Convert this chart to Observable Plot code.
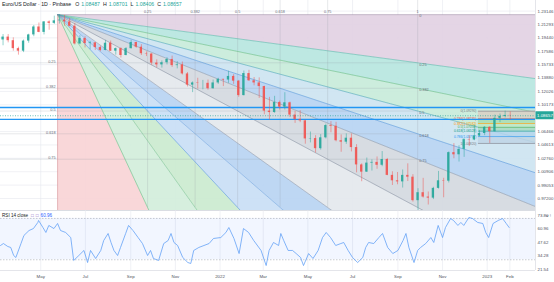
<!DOCTYPE html>
<html>
<head>
<meta charset="utf-8">
<script src="https://cdn.jsdelivr.net/npm/d3@7"></script>
<script src="https://cdn.jsdelivr.net/npm/@observablehq/plot@0.6"></script>
<style>
html,body{margin:0;padding:0;background:#fff;}
#chart{width:554px;height:282px;overflow:hidden;}
#chart svg{display:block;}
</style>
</head>
<body>
<div id="chart"></div>
<script>
// ---------------- data ----------------
const weekStart = "2021-03-08";
const firstOpen = 1.1915;
const weeklyHigh = [1.1990,1.1990,1.1945,1.1815,1.1915,1.1995,1.2115,1.2150,1.2170,1.2180,1.2245,1.2266,1.2255,1.2215,1.2145,1.1975,1.1960,1.1895,1.1880,1.1830,1.1910,1.1900,1.1805,1.1805,1.1810,1.1910,1.1885,1.1850,1.1750,1.1725,1.1640,1.1625,1.1670,1.1692,1.1615,1.1610,1.1465,1.1335,1.1385,1.1355,1.1360,1.1360,1.1385,
1.1370,1.1482,1.1435,1.1355,1.1485,1.1495,1.1395,1.1390,1.1275,1.1120,1.1135,1.1070,1.1185,1.1055,1.0925,1.0935,1.0805,1.0640,1.0590,1.0605,1.0750,1.0785,1.0775,1.0600,1.0615,1.0615,1.0465,1.0200,1.0280,1.0255,1.0295,1.0370,1.0275,1.0090,1.0080,1.0115,1.0200,1.0050,0.9855,0.9999,0.9810,0.9875,1.0095,1.0000,1.0365,1.0480,1.0450,1.0545,1.0590,1.0736,1.0660,1.0715,
1.0715,1.0875,1.0890,1.0930,1.0920];
const weeklyLow = [1.1835,1.1875,1.1760,1.1705,1.1740,1.1870,1.1960,1.2015,1.1985,1.2050,1.2130,1.2135,1.2105,1.2095,1.1845,1.1850,1.1805,1.1780,1.1770,1.1752,1.1765,1.1755,1.1705,1.1665,1.1695,1.1790,1.1800,1.1700,1.1685,1.1565,1.1530,1.1525,1.1570,1.1535,1.1515,1.1430,1.1265,1.1186,1.1235,1.1225,1.1220,1.1235,1.1300,
1.1270,1.1315,1.1300,1.1121,1.1140,1.1340,1.1280,1.1106,1.0880,1.0806,1.0900,1.0945,1.0945,1.0840,1.0760,1.0770,1.0472,1.0490,1.0350,1.0390,1.0545,1.0630,1.0505,1.0360,1.0470,1.0365,1.0075,0.9952,1.0080,1.0100,1.0125,1.0160,1.0035,0.9900,0.9910,0.9865,0.9955,0.9670,0.9536,0.9725,0.9630,0.9705,0.9850,0.9730,0.9935,1.0270,1.0225,1.0290,1.0440,1.0520,1.0575,1.0590,
1.0482,1.0640,1.0770,1.0835,1.0805];
const weeklyClose = [1.1955,1.1905,1.1795,1.1760,1.1900,1.1985,1.2095,1.2020,1.2165,1.2145,1.2180,1.2190,1.2165,1.2105,1.1860,1.1935,1.1865,1.1875,1.1810,1.1770,1.1870,1.1760,1.1795,1.1700,1.1795,1.1880,1.1815,1.1725,1.1720,1.1595,1.1570,1.1600,1.1645,1.1560,1.1570,1.1445,1.1290,1.1320,1.1315,1.1315,1.1240,1.1320,1.1370,
1.1360,1.1410,1.1345,1.1145,1.1450,1.1350,1.1320,1.1270,1.0930,1.0910,1.1050,1.0985,1.1045,1.0875,1.0815,1.0795,1.0545,1.0550,1.0410,1.0560,1.0730,1.0720,1.0520,1.0500,1.0555,1.0425,1.0185,1.0085,1.0210,1.0220,1.0180,1.0260,1.0040,0.9965,0.9950,1.0040,1.0015,0.9690,0.9800,0.9740,0.9725,0.9860,0.9965,0.9960,1.0355,1.0325,1.0400,1.0535,1.0530,1.0585,1.0620,1.0705,
1.0645,1.0830,1.0855,1.0870,1.0866];

const priceTicks = [0.97200,0.99053,1.00906,1.02760,1.04613,1.06466,1.10173,1.12026,1.13880,1.15733,1.17586,1.19440,1.21293,1.23146];
const lastPrice = 1.08657;

const fanLevels = [0, 0.25, 0.382, 0.5, 0.618, 0.75, 1];
const fanDates = ["2021-05-24", "2022-09-28"];
const fanPrices = [1.2266, 0.9596];
const priceBandColors = ["#e2d1e3","#b7e6df","#c8ecda","#cde4f1","#b7d4f2","#d4d9e0"];
const timeBandColors  = ["#f8d4d6","#d3eedb","#cbeacf","#c9def5","#b9d4f2","#e4e8ed"];
const priceRayColors  = ["#a08aa6","#4fb3a6","#5cb87a","#3f9fb0","#4a8fd8","#7f8fa6","#7c8799"];
const timeRayColors   = ["#d28a8f","#5cb87a","#76c08f","#4a8fd8","#6da2dc","#8a94a6","#7c8799"];

const fibLevels = [0, 0.236, 0.382, 0.5, 0.618, 0.786, 1];
const fibDate = "2022-12-20";
const fibPrices = [1.0929, 1.0482];
const fibBandColors = ["#d8cfc4","#a9dcb3","#bde6c5","#a7dac4","#b4d3ee","#c0d3e6"];
const fibLineColors = ["#787b86","#f23645","#ff9800","#4caf50","#089981","#2196f3","#787b86"];

const hLines = [1.0980, 1.0815];

const monthTicks = ["2021-05-01","2021-07-01","2021-09-01","2021-11-01","2022-01-01","2022-03-01","2022-05-01","2022-07-01","2022-09-01","2022-11-01","2023-01-01","2023-02-01"];
const monthLabels = ["May","Jul","Sep","Nov","2022","Mar","May","Jul","Sep","Nov","2023","Feb"];

const rsiDates = ["2021-03-07","2021-03-11","2021-03-17","2021-03-21","2021-03-25","2021-03-28","2021-04-04","2021-04-08","2021-04-15","2021-04-21","2021-04-27","2021-04-28","2021-05-04","2021-05-08","2021-05-12","2021-05-19","2021-05-24","2021-05-28","2021-06-04","2021-06-11","2021-06-15","2021-06-22","2021-06-29","2021-07-04","2021-07-08","2021-07-15","2021-07-22","2021-07-26","2021-08-01","2021-08-05","2021-08-09","2021-08-14","2021-08-18","2021-08-25","2021-08-29","2021-09-04","2021-09-11","2021-09-17","2021-09-24","2021-09-28","2021-10-02","2021-10-09","2021-10-16","2021-10-22","2021-10-26","2021-10-30","2021-11-04","2021-11-11","2021-11-18","2021-11-22","2021-11-26","2021-12-03","2021-12-10","2021-12-17","2021-12-23",
"2022-01-02","2022-01-09","2022-01-13","2022-01-20","2022-01-27","2022-02-02","2022-02-09","2022-02-16","2022-02-26","2022-03-05","2022-03-09","2022-03-15","2022-03-22","2022-03-25","2022-03-29","2022-04-04","2022-04-10","2022-04-15","2022-04-21","2022-04-25","2022-05-02","2022-05-08","2022-05-15","2022-05-21","2022-05-26","2022-06-01","2022-06-08","2022-06-15","2022-06-19","2022-06-25","2022-07-01","2022-07-08","2022-07-15","2022-07-19","2022-07-23","2022-07-30","2022-08-06","2022-08-11","2022-08-18","2022-08-25","2022-09-01","2022-09-08","2022-09-12","2022-09-16","2022-09-23","2022-09-28","2022-10-02","2022-10-09","2022-10-16","2022-10-20","2022-10-26","2022-11-01","2022-11-05","2022-11-12","2022-11-16","2022-11-22","2022-11-26","2022-11-30","2022-12-07","2022-12-12","2022-12-19","2022-12-26","2022-12-30",
"2023-01-03","2023-01-09","2023-01-16","2023-01-22","2023-01-27","2023-01-31"];
const rsiValues = [43.8,45.7,42.8,41.9,34.1,32.2,45.7,53.5,58.3,60.2,66.1,68.0,61.2,56.4,63.2,60.2,65.1,58.3,56.4,51.5,29.3,34.1,39.0,27.3,39.0,31.2,39.0,48.6,55.4,46.7,39.0,34.1,41.9,55.4,63.2,58.3,51.5,45.7,34.1,39.0,31.2,29.3,45.7,48.6,55.4,46.7,43.8,32.2,27.3,26.4,39.0,41.9,43.8,45.7,50.6,
51.5,56.4,61.2,50.6,36.0,60.2,56.4,48.6,39.0,24.4,39.0,46.7,43.8,55.4,48.6,39.0,39.0,36.0,32.2,24.4,36.0,31.2,39.0,51.5,56.4,51.5,43.8,45.7,46.7,39.0,32.2,27.3,32.2,41.9,46.7,45.7,51.5,55.4,41.9,36.0,39.0,48.6,55.4,41.9,27.3,39.0,41.9,45.7,51.5,46.7,63.2,51.5,61.2,69.9,68.0,63.2,66.1,63.2,70.9,69.9,66.1,65.1,56.4,
51.5,65.1,68.0,69.9,65.1,61.2];
const rsiTicks = [73.80, 60.96, 47.62, 34.28, 21.54];
const rsiBands = [70, 30];
const rsiLast = 60.96;

// ---------------- setup ----------------
const upColor = "#26a69a", downColor = "#ef5350";
const X0 = new Date("2021-03-07"), X1 = new Date("2023-03-08");
const priceDomain = [0.95538, 1.24616];
const rsiDomain = [19.60, 77.67];
const font = "Liberation Sans, Arial, sans-serif";
const monthDates = monthTicks.map(d => new Date(d));
const monthLabelOf = new Map(monthDates.map((d, i) => [+d, monthLabels[i]]));

const candles = weeklyClose.map((c, i) => {
  const monday = d3.utcDay.offset(new Date(weekStart), 7 * i);
  const o = i === 0 ? firstOpen : weeklyClose[i - 1];
  return {
    mid: d3.utcHour.offset(monday, 60),
    x1: d3.utcHour.offset(monday, 22),
    x2: d3.utcHour.offset(monday, 98),
    o, c,
    h: Math.max(weeklyHigh[i], o, c),
    l: Math.min(weeklyLow[i], o, c)
  };
});
const candleColor = d => d.c >= d.o ? upColor : downColor;

// fan geometry
const t0 = new Date(fanDates[0]), t1 = new Date(fanDates[1]);
const p0 = fanPrices[0], p1 = fanPrices[1];
const dT = t1 - t0, dP = p0 - p1, K = 4;
const O = {x: t0, y: p0};
const priceRay = l => ({x: new Date(+t0 + K * dT), y: p0 - K * l * dP});
const timeRay = l => ({x: new Date(+t0 + K * l * dT), y: p0 - K * dP});
const levelPrice = l => p0 - l * dP;
const levelTime = l => new Date(+t0 + l * dT);

const fanMarks = [];
for (let i = 0; i < fanLevels.length - 1; i++) {
  const a = fanLevels[i], b = fanLevels[i + 1];
  fanMarks.push(Plot.line([O, priceRay(a), priceRay(b), O], {x: "x", y: "y", fill: priceBandColors[i], fillOpacity: 0.92, stroke: "none", clip: true}));
  fanMarks.push(Plot.line([O, timeRay(a), timeRay(b), O], {x: "x", y: "y", fill: timeBandColors[i], fillOpacity: 0.92, stroke: "none", clip: true}));
}
const inner = fanLevels.slice(1, -1);
fanMarks.push(Plot.ruleY(inner, {y: levelPrice, x1: X0, x2: t1, stroke: "#8f96a3", strokeOpacity: 0.45, strokeWidth: 0.5, clip: true}));
fanMarks.push(Plot.ruleX(fanLevels.slice(1), {x: levelTime, y1: p1, y2: priceDomain[1], stroke: "#8f96a3", strokeOpacity: 0.45, strokeWidth: 0.5, clip: true}));
fanLevels.forEach((l, i) => {
  fanMarks.push(Plot.line([O, priceRay(l)], {x: "x", y: "y", stroke: priceRayColors[i], strokeWidth: 0.7, strokeOpacity: 0.8, clip: true}));
  if (l < 1) fanMarks.push(Plot.line([O, timeRay(l)], {x: "x", y: "y", stroke: timeRayColors[i], strokeWidth: 0.7, strokeOpacity: 0.8, clip: true}));
});
fanMarks.push(Plot.text(inner, {x: t0, y: levelPrice, text: l => String(l), dx: -2, dy: -1.5, textAnchor: "end", fontSize: 3.8, fill: "#6a6f7c"}));
fanMarks.push(Plot.text(fanLevels.slice(0, -1), {x: t1, y: levelPrice, text: l => String(l), dx: 1.5, dy: 1.5, textAnchor: "start", fontSize: 3.8, fill: "#6a6f7c"}));
fanMarks.push(Plot.text(fanLevels.slice(1), {x: levelTime, frameAnchor: "top", dy: 10, text: l => String(l), textAnchor: "middle", fontSize: 3.8, fill: "#6a6f7c"}));

// fib retracement
const fT = new Date(fibDate);
const fibP = l => fibPrices[0] - l * (fibPrices[0] - fibPrices[1]);
const fibBands = d3.range(fibLevels.length - 1).map(i => ({y1: fibP(fibLevels[i]), y2: fibP(fibLevels[i + 1]), fill: fibBandColors[i]}));

const rsi = rsiDates.map((d, i) => ({date: new Date(d), v: rsiValues[i]}));

// ---------------- main pane ----------------
const main = Plot.plot({
  width: 554, height: 210,
  marginTop: 0, marginBottom: 0, marginLeft: 0, marginRight: 19,
  style: {fontFamily: font, background: "transparent", overflow: "visible"},
  x: {type: "utc", domain: [X0, X1], axis: null},
  y: {domain: priceDomain},
  color: {type: "identity"},
  marks: [
    Plot.gridY(priceTicks, {stroke: "#e6e8ee", strokeOpacity: 1, strokeWidth: 0.6}),
    Plot.gridX(monthDates, {stroke: "#e6e8ee", strokeOpacity: 1, strokeWidth: 0.6}),
    ...fanMarks,
    Plot.rect(fibBands, {x1: fT, x2: X1, y1: "y1", y2: "y2", fill: "fill", fillOpacity: 0.85, clip: true}),
    Plot.ruleY(fibLevels, {y: fibP, x1: fT, x2: X1, stroke: (l, i) => fibLineColors[i], strokeWidth: 0.6, clip: true}),
    Plot.text(fibLevels, {x: fT, y: fibP, text: l => `${l}(${fibP(l).toFixed(5)})`, dx: -2, textAnchor: "end", fontSize: 3.3, fill: (l, i) => fibLineColors[i]}),
    Plot.ruleY(hLines, {stroke: "#2196f3", strokeWidth: 1.3, strokeOpacity: 1}),
    Plot.ruleX(candles, {x: "mid", y1: "l", y2: "h", stroke: candleColor, strokeWidth: 0.5, clip: true}),
    Plot.rect(candles, {x1: "x1", x2: "x2", y1: "o", y2: "c", fill: candleColor, fillOpacity: 0.9, clip: true}),
    Plot.ruleY([lastPrice], {stroke: upColor, strokeDasharray: "1,1.5", strokeWidth: 0.7}),
    Plot.ruleX([X1], {stroke: "#d1d4dc", strokeWidth: 0.6}),
    Plot.ruleY([priceDomain[0]], {stroke: "#d1d4dc", strokeWidth: 0.8}),
    Plot.axisY(priceTicks, {anchor: "right", tickSize: 0, tickPadding: 2, fontSize: 4.4, tickFormat: d => d.toFixed(5), color: "#50535e"})
  ]
});

// ---------------- RSI pane ----------------
const rsiPlot = Plot.plot({
  width: 554, height: 72,
  marginTop: 0, marginBottom: 12, marginLeft: 0, marginRight: 19,
  style: {fontFamily: font, background: "transparent", overflow: "visible"},
  x: {type: "utc", domain: [X0, X1]},
  y: {domain: rsiDomain},
  marks: [
    Plot.gridX(monthDates, {stroke: "#e6e8ee", strokeOpacity: 1, strokeWidth: 0.6}),
    Plot.rect([0], {x1: X0, x2: X1, y1: rsiBands[1], y2: rsiBands[0], fill: "#2962ff", fillOpacity: 0.06}),
    Plot.ruleY(rsiBands, {stroke: "#9598a1", strokeDasharray: "1.5,1.5", strokeWidth: 0.5}),
    Plot.line(rsi, {x: "date", y: "v", stroke: "#5b9cf6", strokeWidth: 0.75}),
    Plot.ruleX([X1], {stroke: "#d1d4dc", strokeWidth: 0.6}),
    Plot.ruleY([rsiDomain[0]], {stroke: "#d1d4dc", strokeWidth: 0.6}),
    Plot.axisY(rsiTicks, {anchor: "right", tickSize: 0, tickPadding: 2, fontSize: 4.4, dy: 0.6, tickFormat: d => d.toFixed(2), color: "#50535e"}),
    Plot.axisX(monthDates, {tickSize: 0, tickPadding: 4, fontSize: 4.4, tickFormat: d => monthLabelOf.get(+d), color: "#50535e"})
  ]
});

const root = document.getElementById("chart");
root.appendChild(main);
root.appendChild(rsiPlot);

// overlays drawn with the plots' own scales
const sx = main.scale("x"), sy = main.scale("y");
const m = d3.select(main);
const yl = sy.apply(lastPrice), xr = sx.apply(X1);
m.append("rect").attr("x", xr + 0.5).attr("y", yl - 4).attr("width", 18).attr("height", 8).attr("fill", upColor);
m.append("text").attr("x", xr + 2).attr("y", yl + 1.6).attr("text-anchor", "start").attr("font-size", 4.4).attr("fill", "#fff").attr("font-family", font).text(lastPrice.toFixed(5));

const hdr = m.append("text").attr("x", 2).attr("y", 6.2).attr("text-anchor", "start").attr("font-size", 5.2).attr("font-family", font).attr("fill", "#131722").attr("xml:space", "preserve");
hdr.append("tspan").text("Euro/US Dollar · 1D · Pinbase");
[["O", "1.08487"], ["H", "1.08701"], ["L", "1.08406"], ["C", "1.08657"]].forEach(([k, v], i) => {
  hdr.append("tspan").attr("dx", i === 0 ? 4 : 3).attr("fill", "#131722").text(k);
  hdr.append("tspan").attr("dx", 2).attr("fill", upColor).text(v);
});

const r = d3.select(rsiPlot);
const rh = r.append("text").attr("x", 2).attr("y", 6.8).attr("text-anchor", "start").attr("font-size", 4.6).attr("font-family", font).attr("fill", "#131722");
rh.append("tspan").text("RSI 14 close");
rh.append("tspan").attr("dx", 3).attr("fill", "#7e57c2").text("\u25A1");
rh.append("tspan").attr("dx", 2).attr("fill", "#7e57c2").text("\u25A1");
rh.append("tspan").attr("dx", 2).attr("fill", "#2962ff").text(rsiLast.toFixed(2));
</script>
</body>
</html>
